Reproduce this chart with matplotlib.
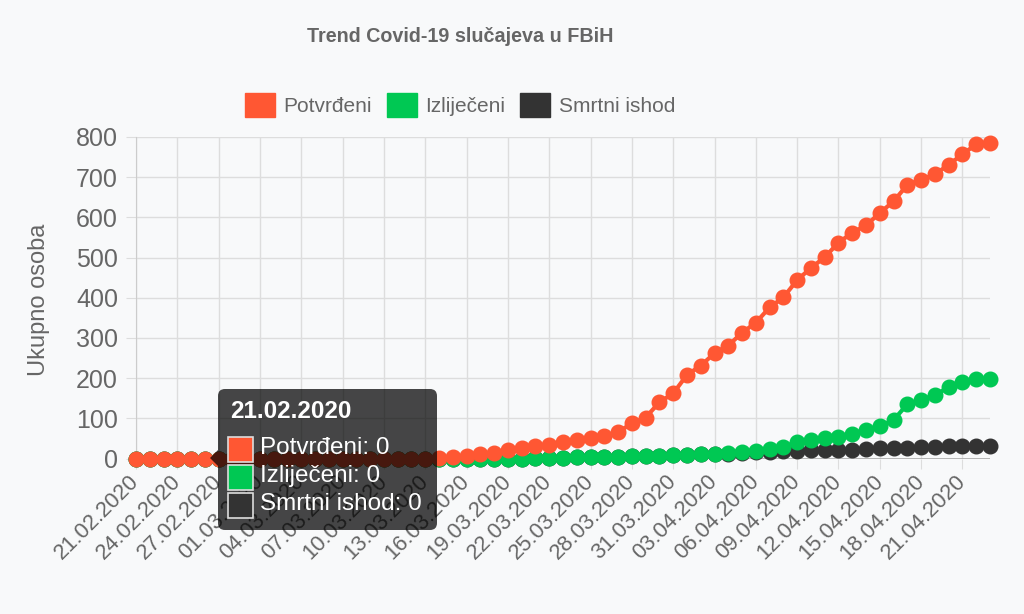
import numpy as np
import pandas as pd
import matplotlib
matplotlib.use('Agg')
import matplotlib.pyplot as plt
from matplotlib.patches import Patch, FancyBboxPatch, Rectangle, Polygon

plt.rcParams['font.family'] = ['Liberation Sans', 'DejaVu Sans']

# data
datumi = pd.date_range('2020-02-21', '2020-04-23').strftime('%d.%m.%Y').tolist()
potvrdjeni = [0] * 22 + [2, 3, 5, 10, 14, 20, 27, 30, 33, 40, 45, 52, 55, 65, 88, 102, 140, 162,
                         208, 231, 262, 281, 313, 338, 376, 401, 444, 474, 501, 537, 562, 580,
                         611, 640, 681, 694, 707, 731, 757, 782, 784]
izlijeceni = [0] * 29 + [1, 2, 2, 3, 3, 4, 4, 5, 6, 7, 8, 9, 10, 11, 13, 16, 19, 23, 29, 41,
                         45, 50, 54, 62, 72, 80, 96, 135, 146, 158, 177, 190, 197, 198]
smrtni = [0] * 29 + [1, 2, 2, 3, 3, 4, 4, 5, 6, 7, 8, 9, 10, 11, 12, 14, 16, 17, 18, 19, 20,
                     21, 21, 22, 24, 25, 26, 27, 28, 29, 30, 30, 30, 30]

serije = ['Potvrđeni', 'Izliječeni', 'Smrtni ishod']
boje = ['#ff5733', '#00c853', '#333333']
vrijednosti = [potvrdjeni, izlijeceni, smrtni]

bg = '#f8f9fa'
txt = '#666666'
grid = '#dddddd'

fig = plt.figure(figsize=(10.24, 6.14), dpi=100, facecolor=bg)
ax = fig.add_axes([136 / 1024, 1 - 458.5 / 614, 854 / 1024, 321.5 / 614])
ax.set_facecolor(bg)

x = np.arange(len(datumi))
for k, (naziv, boja, y) in enumerate(zip(serije, boje, vrijednosti)):
    ax.plot(x, y, '-o', color=boja, lw=3, ms=10.5, mec=boja, clip_on=False,
            zorder=5 - k, label=naziv)

ax.set_xlim(0, len(datumi) - 1)
ax.set_ylim(0, 800)
ax.set_yticks(range(0, 801, 100))
ax.set_xticks(x[::3])
ax.set_xticklabels(datumi[::3], rotation=45, ha='right', va='center',
                   rotation_mode='anchor')
ax.tick_params(axis='y', labelsize=18, colors=grid, labelcolor=txt, length=7, pad=6)
ax.tick_params(axis='x', labelsize=15.8, colors=grid, labelcolor=txt, length=7, pad=7)
ax.grid(True, color=grid, lw=1)
ax.axhline(0, color='#aaaaaa', lw=1.2, zorder=1)
for s in ['top', 'right', 'bottom']:
    ax.spines[s].set_visible(False)
ax.spines['left'].set_color('#cccccc')
ax.set_axisbelow(True)

ax.set_ylabel('Ukupno osoba', fontsize=17, color=txt)
ax.yaxis.set_label_coords(-0.1135, 0.493)
ax.yaxis.label.set_va('center')

fig.text(460 / 1024, 1 - 37 / 614, 'Trend Covid-19 slučajeva u FBiH', ha='center',
         va='center', fontsize=14.2, fontweight='bold', color=txt)

handles = [Patch(facecolor=b, edgecolor=b) for b in boje]
fig.legend(handles, serije, loc='center', bbox_to_anchor=(460 / 1024, 1 - 105 / 614),
           ncol=3, frameon=False, fontsize=15, handlelength=1.45, handleheight=1.45,
           columnspacing=0.7, handletextpad=0.42, labelcolor=txt)

# tooltip overlay (pixel coordinates)
ov = fig.add_axes([0, 0, 1, 1])
ov.set_xlim(0, 1024)
ov.set_ylim(614, 0)
ov.axis('off')
ov.set_zorder(10)
ov.patch.set_alpha(0)
tip = FancyBboxPatch((218, 389), 219, 141, boxstyle='round,pad=0,rounding_size=7',
                     fc=(0, 0, 0, 0.72), ec='none')
ov.add_patch(tip)
ov.add_patch(Polygon([[218, 450], [210, 458], [218, 466]], closed=True,
                     fc=(0, 0, 0, 0.72), ec='none'))
ov.text(230, 411, datumi[0], color='white', fontsize=17.5, fontweight='bold',
        ha='left', va='center')
for k, (naziv, boja, y) in enumerate(zip(serije, boje, vrijednosti)):
    yc = 449 + 28 * k
    ov.add_patch(Rectangle((228, yc - 12), 25, 25, fc=boja, ec='#dddddd', lw=1.2))
    ov.text(260, yc - 1, f'{naziv}: {y[0]}', color='white', fontsize=17.5,
            ha='left', va='center')

fig.savefig('out.png', dpi=100, facecolor=bg)
